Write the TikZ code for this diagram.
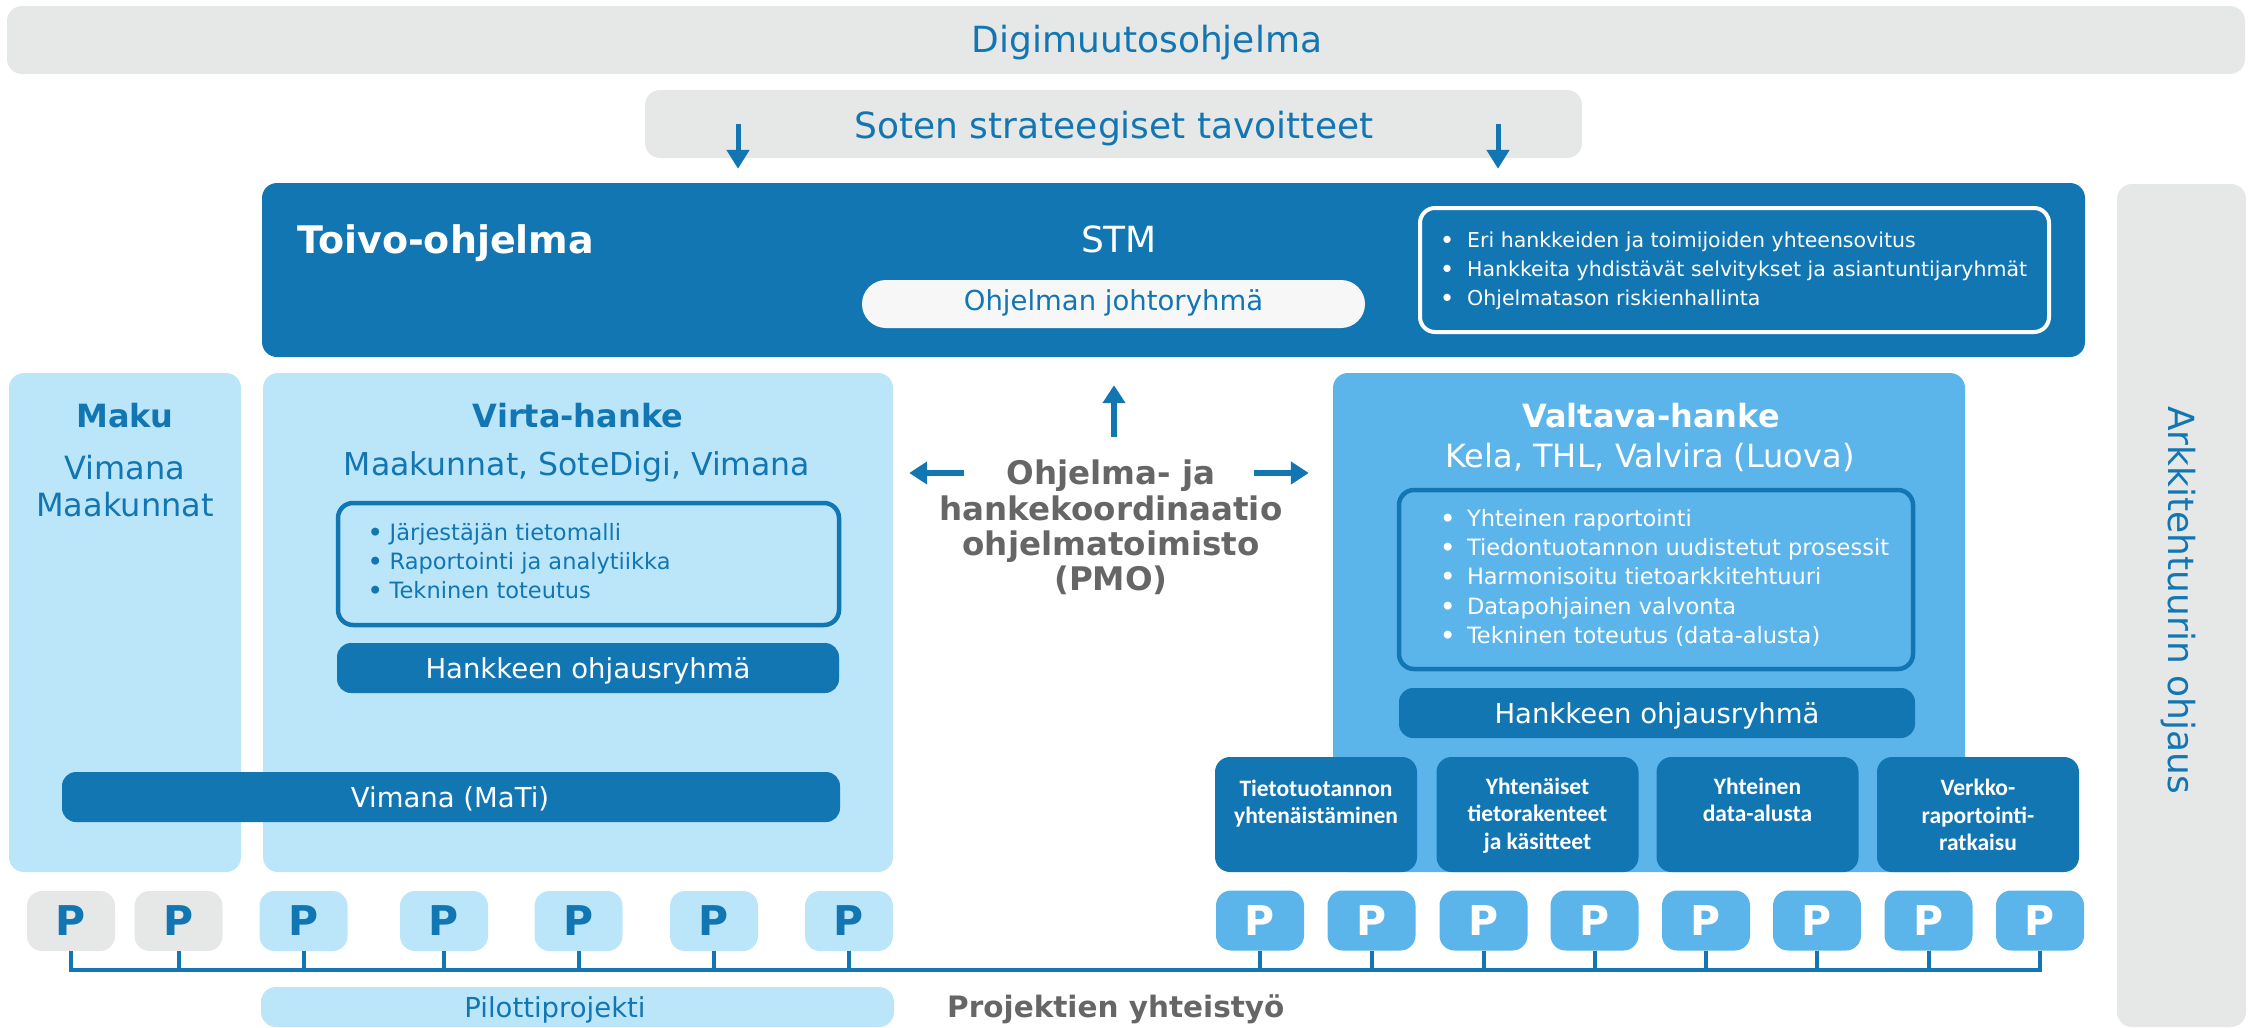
\documentclass[tikz,border=0pt]{standalone}
\usepackage{fontspec}
\setmainfont{DejaVu Sans}
\newfontfamily\carl{Carlito}
\usetikzlibrary{arrows.meta}
\definecolor{dblue}{RGB}{18,118,179}
\definecolor{lblue}{RGB}{187,230,249}
\definecolor{mblue}{RGB}{91,180,234}
\definecolor{lgray}{RGB}{230,231,231}
\definecolor{tgray}{RGB}{102,102,102}
\definecolor{pillc}{RGB}{247,247,247}
\newcommand{\fs}[2]{\fontsize{#1}{#2}\selectfont}
\newcommand{\bul}[1]{\makebox[#1pt][l]{\bfseries •}}
\newcommand{\topstrut}{\rule{0pt}{1em}}
\begin{document}
\begin{tikzpicture}[x=1pt,y=-1pt,
  box/.style={rounded corners=15pt, inner sep=0pt, draw=none},
  txt/.style={inner sep=0pt, anchor=base},
  blist/.style={inner sep=0pt, anchor=north west, align=left},
  mtxt/.style={inner sep=0pt, anchor=north, align=center},
  arr/.style={draw=dblue, line width=6pt, -{Triangle[width=22pt,length=18pt]}},
  darr/.style={draw=dblue, line width=5pt, -{Triangle[width=22pt,length=19pt]}},
  bus/.style={draw=dblue, line width=4pt},
  pbox/.style={box, minimum width=88pt, minimum height=60pt, font=\fs{41}{41}\bfseries},
  subbox/.style={box, fill=dblue, minimum width=202pt, minimum height=115pt},
  subtxt/.style={mtxt, text=white, font=\carl\bfseries\fs{23.5}{27.5}},
  bar/.style={box, rounded corners=14pt, fill=dblue, minimum height=50pt}
]
\useasboundingbox (0,0) rectangle (2255,1028);
\begin{scope}
\clip (0,0) rectangle (2255,1028);

% top bars
\node[box, fill=lgray, minimum width=2238pt, minimum height=68pt] (digi) at (1126,40) {};
\node[txt, text=dblue, font=\fs{36}{43}] (digit) at (1147,52) {Digimuutosohjelma};
\node[box, fill=lgray, minimum width=937pt, minimum height=68pt] (soten) at (1113.5,124) {};
\node[txt, text=dblue, font=\fs{36}{43}] (sotent) at (1114,138) {Soten strateegiset tavoitteet};

% Toivo
\node[box, fill=dblue, minimum width=1823pt, minimum height=174pt] (toivo) at (1173.5,270) {};
\node[txt, anchor=base west, text=white, font=\fs{38}{44}\bfseries] (toivot) at (297,253) {Toivo-ohjelma};
\node[txt, text=white, font=\fs{36}{43}] (stm) at (1119,252) {STM};
\node[box, rounded corners=24pt, fill=pillc, minimum width=503pt, minimum height=48pt] (johto) at (1113.5,304) {};
\node[txt, text=dblue, font=\fs{27.5}{33}] (johtot) at (1113.5,310) {Ohjelman johtoryhmä};
\node[box, draw=white, line width=4pt, minimum width=629pt, minimum height=124pt] (tbox) at (1734.5,270) {};
\node[blist, text=white, font=\fs{20.5}{29}] (tbul) at (1440.5,226.5)
  {\topstrut\bul{26.5}Eri hankkeiden ja toimijoiden yhteensovitus\\
   \bul{26.5}Hankkeita yhdistävät selvitykset ja asiantuntijaryhmät\\
   \bul{26.5}Ohjelmatason riskienhallinta};

% arrows from strategic goals
\coordinate (aL) at (738,0);
\coordinate (aR) at (1498,0);
\draw[darr] (soten.center -| aL) -- ([yshift=14pt]toivo.north -| aL);
\draw[darr] (soten.center -| aR) -- ([yshift=14pt]toivo.north -| aR);

% Arkkitehtuuri
\node[box, fill=lgray, minimum width=129pt, minimum height=843pt] (arkki) at (2181.5,605.5) {};
\node[inner sep=0pt, rotate=-90, text=dblue, font=\fs{36}{43}] (arkkit) at (2178,600) {Arkkitehtuurin ohjaus};

% Maku
\node[box, fill=lblue, minimum width=232pt, minimum height=499pt] (maku) at (125,622.5) {};
\node[txt, text=dblue, font=\fs{32}{37}\bfseries] (makut) at (125,427) {Maku};
\node[mtxt, text=dblue, font=\fs{32}{37}] (makus) at (125,447) {\topstrut Vimana\\Maakunnat};

% Virta
\node[box, fill=lblue, minimum width=630pt, minimum height=499pt] (virta) at (578,622.5) {};
\node[txt, text=dblue, font=\fs{32}{37}\bfseries] (virtat) at (578,427) {Virta-hanke};
\node[txt, text=dblue, font=\fs{31.5}{37}] (virtas) at (577,475) {Maakunnat, SoteDigi, Vimana};
\node[box, draw=dblue, line width=4.5pt, minimum width=501pt, minimum height=122pt] (vbox) at (588.5,564) {};
\node[blist, text=dblue, font=\fs{22.5}{29}] (vbul) at (368,517.5)
  {\topstrut\bul{21.5}Järjestäjän tietomalli\\
   \bul{21.5}Raportointi ja analytiikka\\
   \bul{21.5}Tekninen toteutus};
\node[bar, minimum width=502pt] (vohj) at (588,668) {};
\node[txt, text=white, font=\fs{27.5}{33}] (vohjt) at (588,678) {Hankkeen ohjausryhmä};
\node[bar, minimum width=778pt] (vimana) at (451,797) {};
\node[txt, text=white, font=\fs{27.5}{33}] (vimanat) at (450,807) {Vimana (MaTi)};

% Valtava
\node[box, fill=mblue, minimum width=632pt, minimum height=499pt] (valtava) at (1649,622.5) {};
\node[txt, text=white, font=\fs{32}{37}\bfseries] (valtavat) at (1651,427) {Valtava-hanke};
\node[txt, text=white, font=\fs{32}{37}] (valtavas) at (1650,467) {Kela, THL, Valvira (Luova)};
\node[box, draw=dblue, line width=4.5pt, minimum width=514pt, minimum height=179pt] (lbox) at (1656,579.5) {};
\node[blist, text=white, font=\fs{22.5}{29.3}] (lbul) at (1440.3,503.5)
  {\topstrut\bul{26.5}Yhteinen raportointi\\
   \bul{26.5}Tiedontuotannon uudistetut prosessit\\
   \bul{26.5}Harmonisoitu tietoarkkitehtuuri\\
   \bul{26.5}Datapohjainen valvonta\\
   \bul{26.5}Tekninen toteutus (data-alusta)};
\node[bar, minimum width=516pt] (lohj) at (1657,713) {};
\node[txt, text=white, font=\fs{27.5}{33}] (lohjt) at (1657,723) {Hankkeen ohjausryhmä};

% sub boxes
\node[subbox] (s1) at (1316,814.5) {};
\node[subbox] (s2) at (1537.5,814.5) {};
\node[subbox] (s3) at (1757.5,814.5) {};
\node[subbox] (s4) at (1978,814.5) {};
\node[subtxt] (s1t) at (1316,772.5) {\topstrut Tietotuotannon\\yhtenäistäminen};
\node[subtxt] (s2t) at (1537.5,770.5) {\topstrut Yhtenäiset\\tietorakenteet\\ja käsitteet};
\node[subtxt] (s3t) at (1757.5,770.5) {\topstrut Yhteinen\\data-alusta};
\node[subtxt] (s4t) at (1978,772) {\topstrut Verkko-\\raportointi-\\ratkaisu};

% PMO
\node[mtxt, text=tgray, font=\fs{32.5}{35.3}\bfseries] (pmo) at (1111,452)
  {\topstrut Ohjelma- ja\\hankekoordinaatio\\ohjelmatoimisto\\(PMO)};
\coordinate (pmoU) at (1114,437);
\coordinate (pmoL) at (964,473);
\coordinate (pmoR) at (1254,473);
\draw[arr] (pmoU) -- ([yshift=-28pt]toivo.south -| pmoU);
\draw[arr] (pmoL) -- ([xshift=16pt]virta.east |- pmoL);
\draw[arr] (pmoR) -- ([xshift=-24pt]valtava.west |- pmoR);

% projects
\coordinate (busL) at (71,970);
\coordinate (busR) at (2040,970);
\node[pbox, fill=lgray, text=dblue] (p1) at (71,921) {P};
\node[pbox, fill=lgray, text=dblue] (p2) at (178.5,921) {P};
\node[pbox, fill=lblue, text=dblue] (p3) at (303.5,921) {P};
\node[pbox, fill=lblue, text=dblue] (p4) at (444,921) {P};
\node[pbox, fill=lblue, text=dblue] (p5) at (578.5,921) {P};
\node[pbox, fill=lblue, text=dblue] (p6) at (714,921) {P};
\node[pbox, fill=lblue, text=dblue] (p7) at (849,921) {P};
\node[pbox, fill=mblue, text=white] (q1) at (1260,920.5) {P};
\node[pbox, fill=mblue, text=white] (q2) at (1371.5,920.5) {P};
\node[pbox, fill=mblue, text=white] (q3) at (1483.5,920.5) {P};
\node[pbox, fill=mblue, text=white] (q4) at (1594.5,920.5) {P};
\node[pbox, fill=mblue, text=white] (q5) at (1706,920.5) {P};
\node[pbox, fill=mblue, text=white] (q6) at (1817,920.5) {P};
\node[pbox, fill=mblue, text=white] (q7) at (1928.5,920.5) {P};
\node[pbox, fill=mblue, text=white] (q8) at (2040,920.5) {P};
\foreach \n in {p1,p2,p3,p4,p5,p6,p7,q1,q2,q3,q4,q5,q6,q7,q8}
  \draw[bus] (\n.south) -- (\n.south |- busL);
\draw[bus, line cap=rect] (busL) -- (busR);

\node[box, fill=lblue, minimum width=633pt, minimum height=40pt] (pilot) at (577.5,1007) {};
\node[txt, text=dblue, font=\fs{27.5}{33}] (pilott) at (555,1017) {Pilottiprojekti};
\node[txt, anchor=base west, text=tgray, font=\fs{29.5}{35}\bfseries] (yht) at (947,1017) {Projektien yhteistyö};
\end{scope}
\end{tikzpicture}
\end{document}
